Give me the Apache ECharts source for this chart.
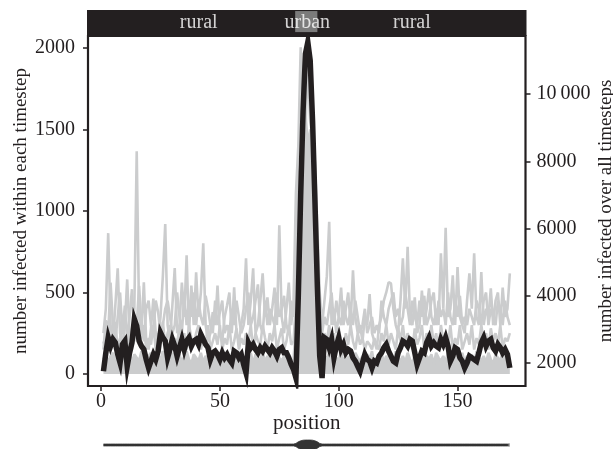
<!DOCTYPE html>
<html>
<head>
<meta charset="utf-8">
<script src="https://cdn.jsdelivr.net/npm/echarts@6/dist/echarts.min.js"></script>
<style>
html,body{margin:0;padding:0;background:#fff;}
#main{width:613px;height:449px;}
</style>
</head>
<body>
<div id="main"></div>
<script>
// positions along the landscape
var positions = [];
for (var p = 1; p <= 172; p++) positions.push(p);

// total infected over all timesteps (right axis)
var totalInfected = [
1750,2300,2750,2500,2700,2600,2250,2000,2550,2650,1900,2300,2600,3300,3100,2650,2500,2400,2100,1850,
2050,2250,2100,2350,2900,2750,2650,2150,2400,2700,2500,2200,2450,2700,2400,2650,2750,2500,2650,2700,
2550,2850,2700,2550,2450,2100,2300,2350,2250,2100,2300,2150,2250,2100,2000,2350,2300,2150,2250,1950,
1700,2600,2450,2550,2400,2300,2450,2350,2500,2400,2300,2450,2350,2200,2400,2450,2300,2300,2150,1950,
1800,1550,4000,7000,9500,11200,11550,11000,9200,6800,4300,2200,1550,2750,2700,2450,2700,2150,2500,2750,
2400,2550,2300,2400,2350,2150,2050,1900,1750,2000,2250,2100,2050,1850,2050,2000,2200,2300,2450,2550,
2350,2200,2050,2000,2300,2450,2650,2600,2500,2700,2650,2300,1950,2150,2350,2300,2600,2750,2500,2600,
2500,2450,2700,2550,2750,2500,2050,2200,2450,2400,2150,2050,1850,2000,2200,2150,2100,2050,2300,2600,
2750,2500,2650,2700,2450,2350,2550,2450,2300,2400,2250,1850
];

// infected within individual timesteps (left axis)
var step1 = [
250,400,864,300,200,420,648,250,180,300,580,220,150,400,1366,350,250,562,200,150,
280,463,250,200,350,600,920,300,200,420,650,250,300,560,350,728,250,543,300,623,
350,500,802,300,200,250,380,300,543,250,200,350,420,500,250,531,250,200,300,400,
710,300,450,648,250,300,450,617,350,470,300,400,530,300,913,350,250,400,560,300,
450,1110,1400,2005,1650,1500,1900,1550,1450,1300,900,500,300,450,600,934,300,400,250,350,
530,300,400,500,300,636,350,250,300,200,350,300,490,250,200,150,300,350,450,500,
563,555,400,300,250,450,710,400,780,350,300,470,250,300,512,300,400,525,350,300,
400,300,740,400,897,350,400,605,300,656,350,300,250,450,617,400,740,350,300,625,
300,400,350,525,300,450,500,300,530,350,400,617
];
var step2 = [
150,330,250,560,300,200,350,500,250,420,200,350,520,250,300,540,300,200,400,450,
300,250,450,380,250,300,400,450,350,250,300,500,350,250,480,300,450,350,500,300,
450,350,300,480,400,300,250,450,300,380,450,250,300,250,400,300,450,350,250,300,
400,500,300,350,450,550,300,250,450,300,400,350,300,500,350,400,480,300,250,450,
350,600,1200,1300,1450,1600,1400,1500,1350,1100,700,350,250,350,300,400,500,300,450,350,
300,450,350,300,400,300,450,350,250,300,400,250,300,350,250,300,250,450,350,300,
400,450,500,350,400,300,350,500,400,300,450,350,300,450,350,480,300,350,450,500,
300,450,350,400,300,500,350,300,450,350,480,300,350,300,400,350,300,450,400,300,
450,500,300,400,350,300,450,400,300,450,350,300
];
var step3 = [
200,150,300,180,250,320,150,220,300,180,250,150,280,200,320,180,240,300,150,220,
180,300,150,250,200,320,180,250,300,150,220,180,300,200,250,150,300,220,180,250,
300,150,220,180,300,150,200,250,180,300,150,220,180,300,150,200,280,150,220,180,
250,200,300,150,250,200,180,300,220,150,250,200,300,150,220,280,150,200,300,180,
200,450,1000,1150,1300,1500,1350,1300,1200,900,600,250,150,250,200,300,180,250,150,280,
200,150,250,180,300,200,150,250,180,220,150,200,180,150,220,180,150,250,200,300,
180,250,200,150,280,200,300,180,250,200,150,280,180,220,300,150,250,200,300,180,
250,150,300,200,250,180,300,150,220,180,300,150,200,250,180,300,150,220,180,300,
200,250,150,280,200,250,180,300,150,220,200,250
];
var step4 = [
90,120,70,110,130,80,100,140,60,110,90,130,70,120,100,80,140,90,60,110,
130,70,100,120,80,140,90,110,60,130,100,80,120,70,110,140,90,60,120,100,
80,130,70,110,90,140,60,100,120,80,130,70,110,90,60,120,100,140,80,70,
110,90,130,60,120,100,80,140,70,110,90,120,60,130,100,80,110,70,120,60,
90,300,900,1300,1400,1450,1450,1400,1300,1000,500,150,70,110,90,130,60,120,100,80,
140,70,110,90,120,60,130,100,80,110,70,120,90,140,60,100,80,130,70,110,
90,120,60,140,100,80,110,70,130,90,60,120,100,80,140,70,110,90,120,60,
130,100,80,110,70,140,90,60,120,100,80,130,70,110,90,120,60,140,100,80,
110,70,130,90,60,120,100,80,140,70,110,90
];

// landscape width (bottom spindle)
var landWidth = [];
for (var k = 1; k <= 172; k++) landWidth.push(0.12);
var urbanWidth = {82:0.2, 83:0.4, 84:0.52, 85:0.6, 86:0.62, 87:0.62, 88:0.62, 89:0.6, 90:0.52, 91:0.4, 92:0.2};
for (var key in urbanWidth) landWidth[key - 1] = urbanWidth[key];

var xTicks = [0, 50, 100, 150];
var leftTicks = [0, 500, 1000, 1500, 2000];
var rightTicks = [2000, 4000, 6000, 8000, 10000];

var stripLabels = ['rural', 'urban', 'rural'];
var stripPos = [41.3, 86.8, 130.6];
var urbanRange = [81.7, 91];

var xMin = -5.5, xMax = 178.6;
var ink = '#231f20', grey = '#cbcccd';
var font = 'Liberation Serif';

function pairs(ys, sign) {
    return positions.map(function (x, i) { return [x, (sign || 1) * ys[i]]; });
}
function greyLine(ys, area) {
    var s = {
        type: 'line', xAxisIndex: 0, yAxisIndex: 0, data: pairs(ys),
        symbol: 'none', silent: true, z: 2,
        lineStyle: {color: grey, width: 2.6}
    };
    if (area) s.areaStyle = {color: grey, opacity: 1};
    return s;
}
function plain(v) { return String(v); }

var chart = echarts.init(document.getElementById('main'));
var option = {
    animation: false,
    backgroundColor: '#fff',
    textStyle: {fontFamily: font},
    grid: [
        {left: 88, right: 87.5, top: 36, bottom: 63, show: true, borderColor: ink, borderWidth: 2.2,
         backgroundColor: '#fff', containLabel: false, outerBoundsMode: 'none'},
        {left: 87, right: 86.5, top: 10, height: 26, show: true, borderWidth: 0, backgroundColor: ink,
         outerBoundsMode: 'none'},
        {left: 88, right: 87.5, top: 437, height: 16, outerBoundsMode: 'none'}
    ],
    xAxis: [
        {
            type: 'value', gridIndex: 0, min: xMin, max: xMax,
            name: 'position', nameLocation: 'middle', nameGap: 27, nameMoveOverlap: false,
            nameTextStyle: {fontFamily: font, fontSize: 21, color: ink},
            axisLine: {show: false, onZero: false},
            axisTick: {show: true, inside: false, length: 5, lineStyle: {color: ink, width: 1.5}, customValues: xTicks},
            axisLabel: {fontFamily: font, fontSize: 20, color: ink, margin: 6, customValues: xTicks, formatter: plain},
            splitLine: {show: false}
        },
        {type: 'value', gridIndex: 1, min: xMin, max: xMax, show: false},
        {type: 'value', gridIndex: 2, min: xMin, max: xMax, show: false}
    ],
    yAxis: [
        {
            type: 'value', gridIndex: 0, position: 'left', min: -74, max: 2074,
            name: 'number infected within each timestep', nameLocation: 'middle', nameRotate: 90, nameGap: 57,
            nameMoveOverlap: false,
            nameTextStyle: {fontFamily: font, fontSize: 19, color: ink},
            axisLine: {show: false, onZero: false},
            axisTick: {show: true, inside: false, length: 5, lineStyle: {color: ink, width: 1.5}, customValues: leftTicks},
            axisLabel: {fontFamily: font, fontSize: 20, color: ink, margin: 13, customValues: leftTicks, formatter: plain},
            splitLine: {show: false}
        },
        {
            type: 'value', gridIndex: 0, position: 'right', min: 1311, max: 11731,
            name: 'number infected over all timesteps', nameLocation: 'middle', nameRotate: 90, nameGap: 71,
            nameMoveOverlap: false,
            nameTextStyle: {fontFamily: font, fontSize: 19, color: ink},
            axisLine: {show: false, onZero: false},
            axisTick: {show: true, inside: false, length: 5, lineStyle: {color: ink, width: 1.5}, customValues: rightTicks},
            axisLabel: {
                fontFamily: font, fontSize: 20, color: ink, margin: 11, customValues: rightTicks,
                formatter: function (v) {
                    return v >= 10000 ? String(v).replace(/\B(?=(\d{3})+(?!\d))/g, '\u2009') : String(v);
                }
            },
            splitLine: {show: false}
        },
        {type: 'value', gridIndex: 1, min: 0, max: 1, show: false},
        {type: 'value', gridIndex: 2, min: -1, max: 1, show: false}
    ],
    series: [
        greyLine(step4, true),
        greyLine(step3),
        greyLine(step2),
        greyLine(step1),
        {
            type: 'line', xAxisIndex: 0, yAxisIndex: 1, data: pairs(totalInfected),
            symbol: 'none', silent: true, z: 5,
            lineStyle: {color: ink, width: 5.5, join: 'miter'}
        },
        {
            type: 'scatter', xAxisIndex: 1, yAxisIndex: 2, symbolSize: 0, silent: true, z: 6,
            data: stripPos.map(function (x, i) { return [x, 0.5, stripLabels[i]]; }),
            label: {
                show: true, position: 'inside', color: '#fff', fontFamily: font, fontSize: 20,
                formatter: function (d) { return d.value[2]; }
            },
            markArea: {
                silent: true,
                itemStyle: {color: '#7b7b7b'},
                data: [[{xAxis: urbanRange[0], yAxis: 0.15}, {xAxis: urbanRange[1], yAxis: 0.96}]]
            }
        },
        {
            type: 'line', xAxisIndex: 2, yAxisIndex: 3, data: pairs(landWidth),
            symbol: 'none', silent: true,
            lineStyle: {color: '#333', width: 0.8}, areaStyle: {color: '#333', opacity: 1}
        },
        {
            type: 'line', xAxisIndex: 2, yAxisIndex: 3, data: pairs(landWidth, -1),
            symbol: 'none', silent: true,
            lineStyle: {color: '#333', width: 0.8}, areaStyle: {color: '#333', opacity: 1}
        }
    ]
};
chart.setOption(option);
</script>
</body>
</html>
